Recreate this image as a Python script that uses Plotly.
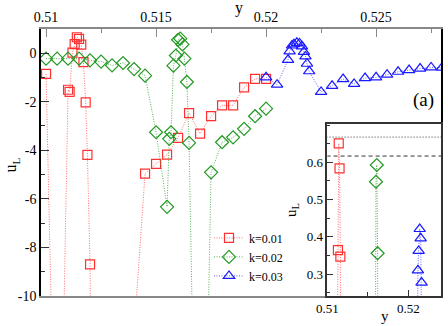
import plotly.graph_objects as go

# k=0.01 (red squares); points below -10 are off the chart
y_k1 = [0.5100, 0.51055, 0.5110, 0.51107, 0.5112, 0.5113, 0.5114, 0.5115, 0.5116, 0.5117,
        0.5118, 0.51188, 0.5120, 0.5122, 0.5145, 0.5150, 0.5155, 0.5160, 0.5165, 0.5170,
        0.5175, 0.5180, 0.5185, 0.5190, 0.5195, 0.5200]
u_k1 = [-0.86, -23.5, -1.51, -1.60, 0.02, 0.364, 0.651, 0.584, 0.347, -0.37,
        -2.03, -4.19, -8.70, -35.0, -4.96, -4.56, -4.18, -3.49, -2.47, -3.32,
        -2.60, -2.15, -2.15, -1.41, -1.06, -1.06]

# k=0.02 (green diamonds)
y_k2 = [0.5100, 0.5105, 0.5110, 0.5115, 0.5120, 0.5125, 0.5130, 0.5135, 0.5140, 0.5145,
        0.5150, 0.5155, 0.5156, 0.51568, 0.51579, 0.5159, 0.5160, 0.5161, 0.5162, 0.51629,
        0.5164, 0.5165, 0.5170, 0.5175, 0.5180, 0.5185, 0.5190, 0.5195, 0.5200]
u_k2 = [-0.23, -0.23, -0.23, -0.23, -0.30, -0.35, -0.51, -0.41, -0.66, -0.93,
        -3.26, -6.33, -3.53, -3.26, -0.52, -0.10, 0.548, 0.593, 0.356, -0.23,
        -1.19, -3.70, -28.4, -4.91, -3.67, -3.47, -3.12, -2.60, -2.29]

# k=0.03 (blue triangles)
y_k3 = [0.5200, 0.5205, 0.5210, 0.52107, 0.52118, 0.52127, 0.52140, 0.52152, 0.52163, 0.52172,
        0.52179, 0.52186, 0.52196, 0.5225, 0.5230, 0.5235, 0.5240, 0.5245, 0.5250, 0.5255,
        0.5260, 0.5265, 0.5270, 0.5275, 0.5280]
u_k3 = [-1.00, -1.30, -0.28, 0.07, 0.31, 0.362, 0.421, 0.396, 0.277, 0.05,
        -0.14, -0.44, -0.75, -1.60, -1.35, -1.07, -1.27, -1.03, -1.00, -0.89,
        -0.77, -0.70, -0.64, -0.59, -0.60]

inset_lines = [0.668, 0.617]

series = [
    ("k=0.01", y_k1, u_k1, "#ff3030", "rgba(255,60,60,0.75)", "square-open", 9),
    ("k=0.02", y_k2, u_k2, "#229922", "rgba(30,150,30,0.75)", "diamond-open", 10),
    ("k=0.03", y_k3, u_k3, "#1a1aff", "rgba(40,40,255,0.75)", "triangle-up-open", 10),
]

serif = "Liberation Serif, Times New Roman, DejaVu Serif, serif"
fig = go.Figure()

for name, xs, us, col, lcol, sym, sz in series:
    fig.add_trace(go.Scatter(x=xs, y=us, name=name, mode="lines+markers",
                             line=dict(color=lcol, width=1, dash="1px,1.5px"),
                             marker=dict(symbol=sym, size=sz, color=col, line=dict(width=1.2)),
                             xaxis="x", yaxis="y"))

for name, xs, us, col, lcol, sym, sz in series:
    fig.add_trace(go.Scatter(x=xs, y=us, name=name, mode="lines+markers", showlegend=False,
                             line=dict(color=lcol, width=1, dash="1px,1.5px"),
                             marker=dict(symbol=sym, size=sz, color=col, line=dict(width=1.2)),
                             xaxis="x2", yaxis="y2"))

# reference lines in the inset
fig.add_trace(go.Scatter(x=[0.5099, 0.5241], y=[inset_lines[0]] * 2, mode="lines", showlegend=False,
                         line=dict(color="#333", width=1, dash="1px,2px"), xaxis="x2", yaxis="y2"))
fig.add_trace(go.Scatter(x=[0.5099, 0.5241], y=[inset_lines[1]] * 2, mode="lines", showlegend=False,
                         line=dict(color="#333", width=1, dash="4px,3px"), xaxis="x2", yaxis="y2"))

# white background of inset
fig.add_shape(type="rect", xref="x2 domain", yref="y2 domain", x0=0, x1=1, y0=0, y1=1,
              fillcolor="white", line=dict(width=0), layer="below")

fig.update_layout(
    width=448, height=326,
    margin=dict(l=41, r=7, t=29, b=30),
    paper_bgcolor="white", plot_bgcolor="white",
    font=dict(family=serif, size=14, color="black"),
    showlegend=True,
    legend=dict(x=0.42, y=0.272, xanchor="left", yanchor="top", bgcolor="rgba(0,0,0,0)",
                font=dict(family=serif, size=12), tracegroupgap=0, itemwidth=30),
    xaxis=dict(domain=[0, 1], range=[0.50977, 0.52795], side="top", anchor="y",
               showgrid=False, zeroline=False, showline=True, linecolor="#888", linewidth=1.5,
               mirror=True, ticks="inside", ticklen=8, tickcolor="#888",
               tickvals=[0.51, 0.515, 0.52, 0.525], ticktext=["0.51", "0.515", "0.52", "0.525"],
               minor=dict(ticks="inside", ticklen=4, dtick=0.0025, tick0=0.51, tickcolor="#888"),
               automargin=False),
    yaxis=dict(domain=[0, 1], range=[-10, 0.99], anchor="x",
               showgrid=False, zeroline=False, showline=True, linecolor="black", linewidth=1.5,
               mirror=True, ticks="inside", ticklen=8, tickcolor="#333",
               tickvals=[0, -2, -4, -6, -8, -10], ticktext=["0", "-2", "-4", "-6", "-8", "-10"],
               minor=dict(ticks="inside", ticklen=4, dtick=1, tick0=0, tickcolor="#333"),
               automargin=False),
    xaxis2=dict(domain=[0.716, 1.0], range=[0.51, 0.52403], anchor="y2",
                showgrid=False, zeroline=False, showline=True, linecolor="#333", linewidth=1.5,
                mirror=True, ticks="inside", ticklen=6, tickcolor="#333",
                tickvals=[0.51, 0.52], ticktext=["0.51", "0.52"], tickfont=dict(size=13),
                minor=dict(ticks="inside", ticklen=4, dtick=0.005, tick0=0.51, tickcolor="#333"),
                automargin=False),
    yaxis2=dict(domain=[0, 0.644], range=[0.241, 0.703], anchor="x2",
                showgrid=False, zeroline=False, showline=True, linecolor="#333", linewidth=1.5,
                mirror=True, ticks="inside", ticklen=6, tickcolor="#333",
                tickvals=[0.3, 0.4, 0.5, 0.6], ticktext=["0.3", "0.4", "0.5", "0.6"],
                tickfont=dict(size=13),
                minor=dict(ticks="inside", ticklen=3, dtick=0.05, tick0=0.25, tickcolor="#333"),
                automargin=False),
)

anns = [
    dict(text="y", x=0.495, y=1.078, font=dict(size=16)),
    dict(text="u<sub>L</sub>", x=-0.074, y=0.49, textangle=-90, font=dict(size=16)),
    dict(text="u<sub>L</sub>", x=0.6275, y=0.322, textangle=-90, font=dict(size=15)),
    dict(text="y", x=0.86, y=-0.075, font=dict(size=15)),
    dict(text="(a)", x=0.955, y=0.734, font=dict(size=19)),
]
for a in anns:
    fig.add_annotation(xref="paper", yref="paper", showarrow=False,
                       xanchor="center", yanchor="middle", **a)

# drop the page's default body margin so the figure fills the window
fig.write_html("out.html", config={"displayModeBar": False},
               post_script="document.body.style.margin='0';")
